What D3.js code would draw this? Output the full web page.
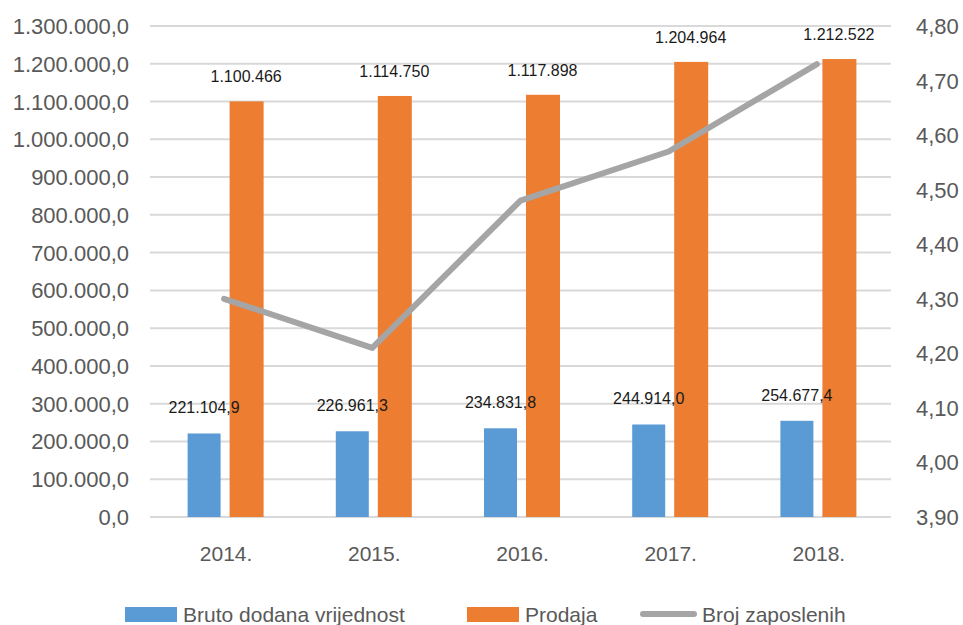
<!DOCTYPE html>
<html>
<head>
<meta charset="utf-8">
<script src="https://cdn.jsdelivr.net/npm/d3@7"></script>
<style>
  body { margin: 0; background: #fff; }
  svg text { font-family: "Liberation Sans", Arial, sans-serif; }
</style>
</head>
<body>
<svg width="963" height="625"></svg>
<script>
var years    = ["2014.", "2015.", "2016.", "2017.", "2018."];
var bruto    = [221104.9, 226961.3, 234831.8, 244914.0, 254677.4];
var prodaja  = [1100466, 1114750, 1117898, 1204964, 1212522];
var zaposleni = [4.30, 4.21, 4.48, 4.57, 4.73];
var leftTicks  = d3.range(0, 1300001, 100000);
var rightTicks = [3.9, 4.0, 4.1, 4.2, 4.3, 4.4, 4.5, 4.6, 4.7, 4.8];
var seriesNames = ["Bruto dodana vrijednost", "Prodaja", "Broj zaposlenih"];

var svg = d3.select("svg");

var c_blue = "#5b9bd5", c_orange = "#ed7d31", c_gray = "#a5a5a5",
    c_text = "#595959", c_grid = "#d9d9d9";

const plotLeft = 150, plotRight = 891, plotTop = 26, plotBottom = 517;

var x = d3.scaleBand().domain(years).range([plotLeft, plotRight]);
var yL = d3.scaleLinear().domain([0, 1300000]).range([plotBottom, plotTop]);
var yR = d3.scaleLinear().domain([3.9, 4.8]).range([plotBottom, plotTop]);

// locale with . for thousands and , for decimals
var hr = d3.formatLocale({ decimal: ",", thousands: ".", grouping: [3], currency: ["", " kn"] });
var fmt1 = hr.format(",.1f"), fmt0 = hr.format(",.0f"), fmt2 = hr.format(".2f");

// gridlines
svg.append("g").selectAll("line").data(leftTicks).join("line")
    .attr("x1", plotLeft).attr("x2", plotRight)
    .attr("y1", d => yL(d)).attr("y2", d => yL(d))
    .style("stroke", c_grid).style("stroke-width", 2);

// left axis labels
svg.append("g").selectAll("text").data(leftTicks).join("text")
    .attr("x", 129).attr("y", d => yL(d) + 8)
    .attr("text-anchor", "end")
    .attr("font-size", 22)
    .attr("fill", c_text)
    .text(d => fmt1(d));

// right axis labels
svg.append("g").selectAll("text").data(rightTicks).join("text")
    .attr("x", 916).attr("y", d => yR(d) + 8)
    .attr("font-size", 22)
    .attr("fill", c_text)
    .text(d => fmt2(d));

// x labels
svg.append("g").selectAll("text").data(years).join("text")
    .attr("x", d => x(d) + x.bandwidth() / 2 + 2).attr("y", 561)
    .attr("text-anchor", "middle")
    .attr("font-size", 21)
    .attr("fill", c_text)
    .text(d => d);

var barW = 33, gap = 9;
var g = svg.append("g");

// blue bars
g.selectAll("rect.b").data(bruto).join("rect").attr("class", "b")
    .attr("x", (d, i) => x(years[i]) + x.bandwidth() / 2 + 1 - gap / 2 - barW)
    .attr("y", d => yL(d))
    .attr("width", barW)
    .attr("height", d => plotBottom - yL(d))
    .style("fill", c_blue);

// orange bars
g.selectAll("rect.p").data(prodaja).join("rect").attr("class", "p")
    .attr("x", (d, i) => x(years[i]) + x.bandwidth() / 2 + 1 + gap / 2)
    .attr("y", d => yL(d))
    .attr("width", barW + 1)
    .attr("height", d => plotBottom - yL(d))
    .style("fill", c_orange);

// bar labels
g.selectAll("text.b").data(bruto).join("text").attr("class", "b")
    .attr("x", (d, i) => x(years[i]) + x.bandwidth() / 2 + 1 - gap / 2 - barW / 2)
    .attr("y", d => yL(d) - 20)
    .attr("text-anchor", "middle")
    .attr("font-size", 16)
    .attr("fill", "#1a1a1a")
    .text(d => fmt1(d));

g.selectAll("text.p").data(prodaja).join("text").attr("class", "p")
    .attr("x", (d, i) => x(years[i]) + x.bandwidth() / 2 + 1 + gap / 2 + barW / 2)
    .attr("y", d => yL(d) - 19)
    .attr("text-anchor", "middle")
    .attr("font-size", 16)
    .attr("fill", "#1a1a1a")
    .text(d => fmt0(d));

// line
var line = d3.line()
    .x((d, i) => x(years[i]) + x.bandwidth() / 2)
    .y(d => yR(d));
svg.append("path").attr("d", line(zaposleni))
    .style("fill", "none")
    .style("stroke", c_gray)
    .style("stroke-width", 6)
    .style("stroke-linecap", "round")
    .style("stroke-linejoin", "round");

// legend
var legend = svg.append("g");
var legX = [125, 467, 640];
legend.append("rect").attr("x", legX[0]).attr("y", 607).attr("width", 52).attr("height", 15).style("fill", c_blue);
legend.append("rect").attr("x", legX[1]).attr("y", 607).attr("width", 52).attr("height", 15).style("fill", c_orange);
legend.append("line").attr("x1", legX[2] + 3).attr("x2", legX[2] + 54).attr("y1", 614).attr("y2", 614)
    .style("stroke", c_gray).style("stroke-width", 6).style("stroke-linecap", "round");
var legTextX = [183, 525, 702];
legend.selectAll("text").data(seriesNames).join("text")
    .attr("x", (d, i) => legTextX[i]).attr("y", 622)
    .attr("font-size", 21)
    .attr("fill", c_text)
    .text(d => d);
</script>
</body>
</html>
